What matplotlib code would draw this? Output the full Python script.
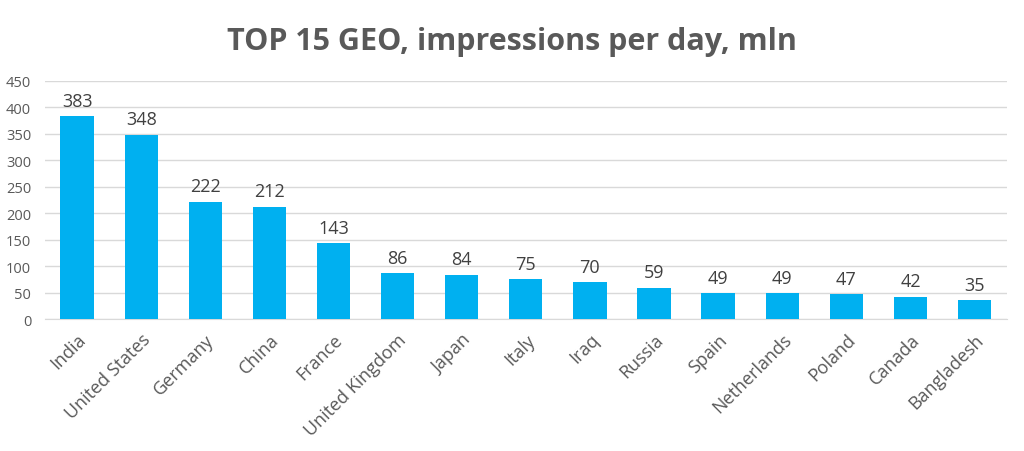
import matplotlib
matplotlib.use("Agg")
import matplotlib.pyplot as plt
import numpy as np

countries = ["India", "United States", "Germany", "China", "France",
             "United Kingdom", "Japan", "Italy", "Iraq", "Russia", "Spain",
             "Netherlands", "Poland", "Canada", "Bangladesh"]
impressions = [383, 348, 222, 212, 143, 86, 84, 75, 70, 59, 49, 49, 47, 42, 35]
y_ticks = [0, 50, 100, 150, 200, 250, 300, 350, 400, 450]

plt.rcParams['font.family'] = ['Open Sans', 'DejaVu Sans']
text_color = '#595959'

fig = plt.figure(figsize=(10.24, 4.52), dpi=100)
ax = fig.add_axes([0.044, 0.292, 0.939, 0.527])

x = np.arange(len(countries))
bars = ax.bar(x, impressions, width=0.52, color='#00B0F0', zorder=3)

for xi, v in zip(x, impressions):
    ax.text(xi, v + 12, str(v), ha='center', va='bottom', fontsize=13,
            color='#404040')

ax.set_xlim(-0.5, len(countries) - 0.5)
ax.set_ylim(0, 450)
ax.set_yticks(y_ticks)
ax.set_yticklabels([str(t) for t in y_ticks], fontsize=10.5, color=text_color)
ax.yaxis.grid(True, color='#d9d9d9', linewidth=1, zorder=0)
ax.tick_params(axis='both', length=0)
ax.tick_params(axis='y', pad=10)

ax.set_xticks(x)
ax.set_xticklabels(countries, rotation=45, ha='right', rotation_mode='anchor',
                   fontsize=13, color=text_color)
ax.tick_params(axis='x', pad=8)

for side in ['top', 'right', 'left']:
    ax.spines[side].set_visible(False)
ax.spines['bottom'].set_color('#d9d9d9')

fig.suptitle("TOP 15 GEO, impressions per day, mln", x=0.5, y=0.94,
             fontsize=22, fontweight='bold', color=text_color)

fig.savefig("out.png", dpi=100)
